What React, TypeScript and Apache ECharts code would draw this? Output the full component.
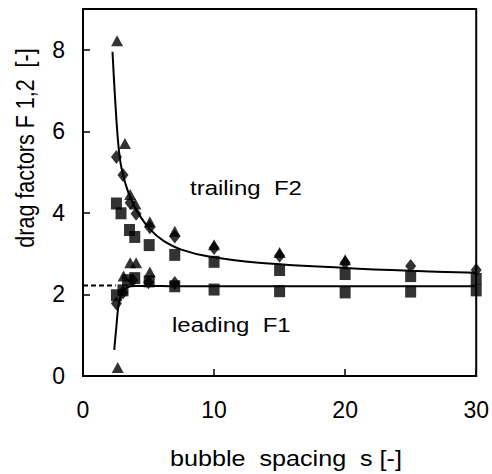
import React, { useEffect, useRef } from "react";
import * as echarts from "echarts";

// Measured drag factors: trailing bubble (F2) and leading bubble (F1)
// for three experiment sets, against bubble spacing s.
const triSpacingF2 = [2.6, 3.2, 3.6, 4.0, 5.1, 7.0, 10, 15, 20];
const triF2 = [8.22, 5.7, 4.45, 4.22, 3.78, 3.55, 3.22, 3.03, 2.85];
const triSpacingF1 = [2.65, 3.1, 3.6, 4.05, 5.1];
const triF1 = [0.21, 2.45, 2.78, 2.78, 2.55];

const diaSpacingF2 = [2.55, 3.05, 3.6, 4.05, 5.1, 7.0, 10, 15, 20, 25, 30];
const diaF2 = [5.37, 4.93, 4.25, 3.98, 3.65, 3.42, 3.14, 2.95, 2.78, 2.7, 2.6];
const diaSpacingF1 = [2.55, 3.05, 3.8, 5.0, 7.0];
const diaF1 = [1.78, 2.05, 2.35, 2.3, 2.28];

const sqSpacingF2 = [2.55, 2.9, 3.55, 3.95, 5.05, 7.0, 10, 15, 20, 25, 30];
const sqF2 = [4.23, 3.99, 3.58, 3.41, 3.21, 2.97, 2.8, 2.6, 2.5, 2.45, 2.38];
const sqSpacingF1 = [2.55, 3.05, 3.4, 3.95, 5.05, 7.0, 10, 15, 20, 25, 30];
const sqF1 = [1.98, 2.1, 2.35, 2.4, 2.32, 2.2, 2.12, 2.08, 2.05, 2.07, 2.1];

// Fitted curves
const trailFitS = [2.25, 2.43, 2.66, 2.85, 3.06, 3.35, 3.64, 4.1, 5.1, 6.2, 7.5, 9.6, 13.4, 20, 25, 30];
const trailFitF = [7.95, 6.9, 5.8, 5.25, 4.93, 4.6, 4.36, 4.05, 3.6, 3.3, 3.1, 2.93, 2.78, 2.65, 2.58, 2.53];
const leadFitS = [2.38, 2.53, 2.68, 2.85, 3.05, 3.4, 4.0, 5.0, 7.0, 30];
const leadFitF = [0.64, 1.15, 1.66, 1.93, 2.08, 2.18, 2.21, 2.21, 2.2, 2.2];

// Single-bubble reference value
const singleS = [0, 2.5];
const singleF = [2.22, 2.22];

const xTicks = [0, 10, 20, 30];
const yTicks = [0, 2, 4, 6, 8];

const zip = (xs: number[], ys: number[]) => xs.map((x, i) => [x, ys[i]]);

const FONT = "'Liberation Sans', Arial, Helvetica, sans-serif";

export default function App() {
  const ref = useRef<HTMLDivElement>(null);

  useEffect(() => {
    if (!ref.current) return;
    const chart = echarts.init(ref.current, null, { renderer: "svg" });

    const scatter = (data: number[][], symbol: string, size: number[]) => ({
      type: "scatter",
      data,
      symbol,
      symbolSize: size,
      itemStyle: { color: "#000" },
      z: 3,
    });

    const fitLine = (data: number[][]) => ({
      type: "line",
      data,
      showSymbol: false,
      smooth: 0.35,
      lineStyle: { color: "#000", width: 2 },
      z: 2,
    });

    chart.setOption({
      animation: false,
      backgroundColor: "#fff",
      grid: {
        left: 83,
        right: 14,
        top: 9,
        bottom: 98,
        show: true,
        borderColor: "#000",
        borderWidth: 2,
      },
      xAxis: {
        type: "value",
        min: xTicks[0],
        max: xTicks[xTicks.length - 1],
        interval: 10,
        axisLine: { show: true, lineStyle: { color: "#000", width: 2 } },
        axisTick: { show: true, inside: true, length: 7, lineStyle: { color: "#000", width: 1.5 } },
        splitLine: { show: false },
        axisLabel: {
          color: "#000",
          fontFamily: FONT,
          fontSize: 23,
          margin: 22,
          formatter: (v: number) => (xTicks.includes(v) ? String(v) : ""),
        },
      },
      yAxis: {
        type: "value",
        min: 0,
        max: 9,
        interval: 2,
        axisLine: { show: true, lineStyle: { color: "#000", width: 2 } },
        axisTick: { show: true, inside: true, length: 7, lineStyle: { color: "#000", width: 1.5 } },
        splitLine: { show: false },
        axisLabel: {
          color: "#000",
          fontFamily: FONT,
          fontSize: 23,
          margin: 18,
          showMaxLabel: false,
          formatter: (v: number) => (yTicks.includes(v) ? String(v) : ""),
        },
      },
      series: [
        {
          type: "line",
          data: zip(singleS, singleF),
          showSymbol: false,
          lineStyle: { color: "#000", width: 2, type: [5, 3] },
          z: 2,
        },
        fitLine(zip(trailFitS, trailFitF)),
        fitLine(zip(leadFitS, leadFitF)),
        scatter(zip(sqSpacingF2, sqF2), "rect", [11, 12]),
        scatter(zip(sqSpacingF1, sqF1), "rect", [11, 12]),
        scatter(zip(diaSpacingF2, diaF2), "diamond", [11, 14]),
        scatter(zip(diaSpacingF1, diaF1), "diamond", [11, 14]),
        scatter(zip(triSpacingF2, triF2), "triangle", [12, 11]),
        scatter(zip(triSpacingF1, triF1), "triangle", [12, 11]),
      ],
      graphic: [
        {
          type: "text",
          x: 190,
          y: 188,
          scaleX: 1.17,
          style: {
            text: "trailing  F2",
            font: `20.5px ${FONT}`,
            fill: "#000",
            align: "left",
            verticalAlign: "middle",
          },
        },
        {
          type: "text",
          x: 172,
          y: 325,
          scaleX: 1.17,
          style: {
            text: "leading  F1",
            font: `20.5px ${FONT}`,
            fill: "#000",
            align: "left",
            verticalAlign: "middle",
          },
        },
        {
          type: "text",
          x: 286,
          y: 459,
          scaleX: 1.17,
          style: {
            text: "bubble  spacing  s [-]",
            font: `21.5px ${FONT}`,
            fill: "#000",
            align: "center",
            verticalAlign: "middle",
          },
        },
        {
          type: "text",
          x: 25,
          y: 148,
          rotation: Math.PI / 2,
          scaleY: 1.17,
          style: {
            text: "drag factors F 1,2  [-]",
            font: `21.5px ${FONT}`,
            fill: "#000",
            align: "center",
            verticalAlign: "middle",
          },
        },
      ],
    });

    return () => chart.dispose();
  }, []);

  return (
    <div
      ref={ref}
      style={{ position: "fixed", left: 0, top: 0, width: 492, height: 474, background: "#fff" }}
    />
  );
}
